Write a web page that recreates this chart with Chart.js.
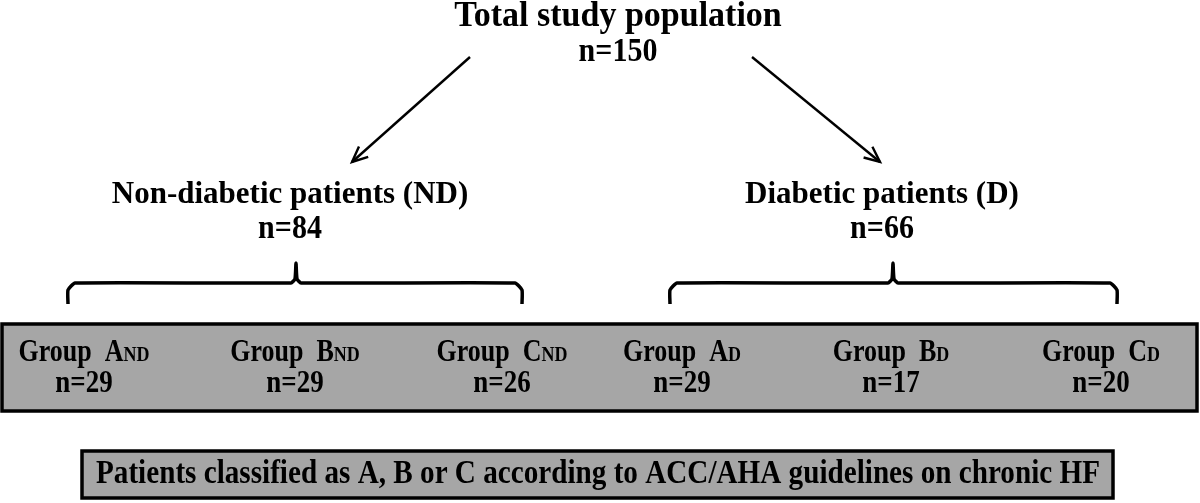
<!DOCTYPE html>
<html>
<head>
<meta charset="utf-8">
<script src="https://cdn.jsdelivr.net/npm/chart.js@4"></script>
<style>
html,body{margin:0;padding:0;background:#fff}
canvas{display:block}
</style>
</head>
<body>
<canvas id="flow" width="1200" height="503"></canvas>
<script>
// data
var nodeLabels = ['Total study population', 'Non-diabetic patients (ND)', 'Diabetic patients (D)']
var nodeCounts = [150, 84, 66]
var groupNames = ['Group A', 'Group B', 'Group C', 'Group A', 'Group B', 'Group C']
var groupSubs = ['ND', 'ND', 'ND', 'D', 'D', 'D']
var groupCounts = [29, 29, 26, 29, 17, 20]
var footnote = 'Patients classified as A, B or C according to ACC/AHA guidelines on chronic HF'

// layout (canvas units, y down)
var nodePos = [[618, 26], [290, 203], [882, 203]]
var nodeSize = [34, 31, 31]
var groupPos = [[84, 361], [295, 361], [502, 361], [682, 361], [891, 361], [1101, 361]]
var arrows = [[[470, 57], [352, 162]], [[752, 57], [880, 162]]]
var braces = [[68, 522, 296], [670, 1117, 893]]
var groupBox = [2, 324, 1197, 411]
var noteBox = [82, 451, 1113, 498]

var FONT = '"Liberation Serif", "Times New Roman", serif'

function bracePts(l, r, m) {
  var top = 283, bot = 304, tip = 263, c = 7
  return [
    {x: l, y: bot}, {x: l, y: top + c}, {x: l + c, y: top},
    {x: m - 5, y: top}, {x: m - 1, y: top - 4}, {x: m, y: tip},
    {x: m + 1, y: top - 4}, {x: m + 5, y: top},
    {x: r - c, y: top}, {x: r, y: top + c}, {x: r, y: bot}
  ]
}

var datasets = []
arrows.forEach(function (a) {
  datasets.push({type: 'line', data: [{x: a[0][0], y: a[0][1]}, {x: a[1][0], y: a[1][1]}],
    borderColor: '#000', borderWidth: 2.4, pointRadius: 0, arrow: true})
})
braces.forEach(function (b) {
  datasets.push({type: 'line', data: bracePts(b[0], b[1], b[2]),
    borderColor: '#000', borderWidth: 3.5, pointRadius: 0, tension: 0.15,
    borderJoinStyle: 'round', borderCapStyle: 'butt'})
})

function px(chart, x) { return chart.scales.x.getPixelForValue(x) }
function py(chart, y) { return chart.scales.y.getPixelForValue(y) }

// centred text with an optional small-caps subscript, stretched vertically by sy
function textSub(ctx, main, sub, cx, base, size, sy) {
  sy = sy || 1
  var subSize = Math.round(size * 0.68)
  ctx.font = 'bold ' + size + 'px ' + FONT
  var w1 = ctx.measureText(main).width
  ctx.font = 'bold ' + subSize + 'px ' + FONT
  var w2 = sub ? ctx.measureText(sub).width : 0
  var x0 = cx - (w1 + w2) / 2
  ctx.save()
  ctx.translate(x0, base)
  ctx.scale(1, sy)
  ctx.textAlign = 'left'
  ctx.textBaseline = 'alphabetic'
  ctx.font = 'bold ' + size + 'px ' + FONT
  ctx.fillText(main, 0, 0)
  if (sub) {
    ctx.font = 'bold ' + subSize + 'px ' + FONT
    ctx.fillText(sub, w1, 0)
  }
  ctx.restore()
}

var flowPlugin = {
  id: 'flow',
  beforeDraw: function (chart) {
    var ctx = chart.ctx
    ctx.save()
    ctx.fillStyle = '#fff'
    ctx.fillRect(0, 0, chart.width, chart.height)
    ;[groupBox, noteBox].forEach(function (b) {
      var x0 = px(chart, b[0]), y0 = py(chart, b[1]), x1 = px(chart, b[2]), y1 = py(chart, b[3])
      ctx.fillStyle = '#a6a6a6'
      ctx.fillRect(x0, y0, x1 - x0, y1 - y0)
      ctx.lineWidth = 3.5
      ctx.strokeStyle = '#000'
      ctx.strokeRect(x0, y0, x1 - x0, y1 - y0)
    })
    ctx.restore()
  },
  afterDatasetsDraw: function (chart) {
    var ctx = chart.ctx
    ctx.save()
    ctx.fillStyle = '#000'
    ctx.strokeStyle = '#000'
    // arrow heads
    chart.data.datasets.forEach(function (ds, i) {
      if (!ds.arrow) return
      var pts = chart.getDatasetMeta(i).data
      var a = pts[0], b = pts[1]
      var ang = Math.atan2(b.y - a.y, b.x - a.x)
      var len = 17, spread = 0.42
      ctx.lineWidth = 2.4
      ctx.lineJoin = 'miter'
      ctx.beginPath()
      ctx.moveTo(b.x - len * Math.cos(ang - spread), b.y - len * Math.sin(ang - spread))
      ctx.lineTo(b.x, b.y)
      ctx.lineTo(b.x - len * Math.cos(ang + spread), b.y - len * Math.sin(ang + spread))
      ctx.stroke()
    })
    // node texts
    nodeLabels.forEach(function (lab, i) {
      var cx = px(chart, nodePos[i][0]), by = py(chart, nodePos[i][1])
      textSub(ctx, lab, '', cx, by, nodeSize[i], 1.05)
      textSub(ctx, 'n=' + nodeCounts[i], '', cx, by + 35, 30, 1.1)
    })
    // group texts
    groupNames.forEach(function (g, i) {
      var cx = px(chart, groupPos[i][0]), by = py(chart, groupPos[i][1])
      textSub(ctx, g.replace(' ', '  '), groupSubs[i], cx, by, 26, 1.18)
      textSub(ctx, 'n=' + groupCounts[i], '', cx, by + 31, 27, 1.15)
    })
    // footnote, condensed to fit
    ctx.font = 'bold 33px ' + FONT
    var w = ctx.measureText(footnote).width
    var target = px(chart, 1100) - px(chart, 96)
    ctx.translate(px(chart, 96), py(chart, 483))
    ctx.scale(target / w, 1.02)
    ctx.textAlign = 'left'
    ctx.fillText(footnote, 0, 0)
    ctx.restore()
  }
}

var chart = new Chart(document.getElementById('flow').getContext('2d'), {
  type: 'scatter',
  data: {datasets: datasets},
  options: {
    responsive: false,
    devicePixelRatio: 1,
    animation: false,
    layout: {padding: 0},
    scales: {
      x: {type: 'linear', min: 0, max: 1200, display: false},
      y: {type: 'linear', min: 0, max: 503, reverse: true, display: false}
    },
    plugins: {legend: {display: false}, tooltip: {enabled: false}}
  },
  plugins: [flowPlugin]
})
</script>
</body>
</html>
